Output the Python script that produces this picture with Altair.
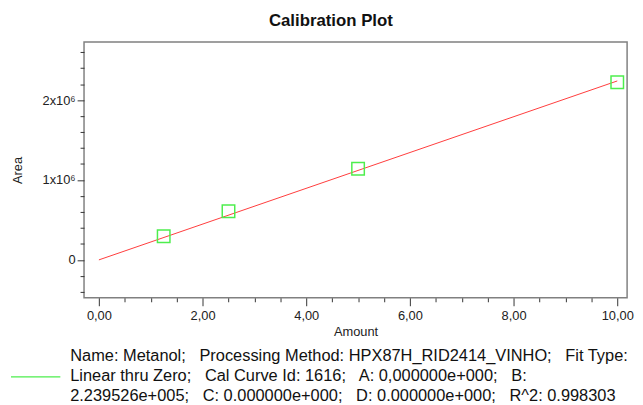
import altair as alt
import pandas as pd

# data
amounts = [1.25, 2.5, 5.0, 10.0]
areas = [297000, 610000, 1142000, 2223000]
fit_amount = [0.0, 10.0]
fit_area = [0.0, 2239526.0]
legend_lines = [
    "Name: Metanol;   Processing Method: HPX87H_RID2414_VINHO;   Fit Type:",
    "Linear thru Zero;   Cal Curve Id: 1616;   A: 0,000000e+000;   B:",
    "2.239526e+005;   C: 0.000000e+000;   D: 0.000000e+000;   R^2: 0.998303",
]
x_ticks = [i * 0.5 for i in range(0, 21)]
y_ticks = [i * 200000 for i in range(-2, 14)]
title_text = "Calibration Plot"

# keep runs of spaces visible in SVG
label = "|".join(l.replace("  ", "\u00a0\u00a0") for l in legend_lines)
pts = pd.DataFrame({"Amount": amounts, "Area": areas, "series": [label] * len(amounts)})
fit = pd.DataFrame({"Amount": fit_amount, "Area": fit_area})

FONT = "Liberation Sans"
xscale = alt.Scale(domain=[-0.287, 10.19], nice=False, zero=False)
yscale = alt.Scale(domain=[-475000, 2726000], nice=False, zero=False)

xaxis = alt.Axis(
    values=x_ticks, tickCount=200,
    labelExpr="datum.value % 2 == 0 ? replace(format(datum.value, '.2f'), '.', ',') : ''",
    tickSize={"condition": {"test": "datum.value % 2 == 0", "value": 8}, "value": 4},
    grid=False, domain=False, tickColor="#333333", labelColor="#222222",
    labelFont=FONT, labelFontSize=13, labelPadding=4, labelOverlap=False,
    title="Amount", titleFont=FONT, titleFontSize=13, titleFontWeight="normal",
    titleColor="#222222", titlePadding=3,
)
yaxis = alt.Axis(
    values=y_ticks, tickCount=200,
    labelExpr="datum.value == 0 ? '0' : (datum.value % 1000000 == 0 ? (datum.value / 1000000) + 'x10\u2076' : '')",
    tickSize={"condition": {"test": "datum.value % 1000000 == 0", "value": 7}, "value": 4},
    grid=False, domain=False, tickColor="#333333", labelColor="#222222",
    labelFont=FONT, labelFontSize=13, labelPadding=2, labelOverlap=False,
    title="Area", titleFont=FONT, titleFontSize=13, titleFontWeight="normal",
    titleColor="#222222", titlePadding=18,
)

line = alt.Chart(fit).mark_line(color="#ff3b3b", strokeWidth=1).encode(
    x=alt.X("Amount:Q", scale=xscale, axis=xaxis),
    y=alt.Y("Area:Q", scale=yscale, axis=yaxis),
)

points = alt.Chart(pts).mark_point(shape="square", filled=False, size=160, strokeWidth=1.5, opacity=1).encode(
    x=alt.X("Amount:Q", scale=xscale),
    y=alt.Y("Area:Q", scale=yscale),
    color=alt.Color(
        "series:N",
        scale=alt.Scale(domain=[label], range=["#4dee4d"]),
        legend=alt.Legend(
            title=None, orient="none", legendX=-75, legendY=292,
            symbolType="M-1,0.84H1", symbolSize=2500, symbolStrokeWidth=1.2,
            labelExpr="split(datum.label, '|')", labelLimit=0,
            labelFont=FONT, labelFontSize=16.6, labelColor="#111111",
            labelOffset=9, padding=0,
        ),
    ),
)

chart = alt.layer(line, points).properties(
    width=550, height=259,
    title=alt.TitleParams(title_text, font=FONT, fontSize=17, fontWeight="bold",
                          anchor="middle", dx=-25, offset=12, color="#111111"),
    autosize=alt.AutoSizeParams(type="none"),
    padding={"left": 77, "top": 32, "right": 8, "bottom": 106},
).configure(
    style={"guide-label": {"lineHeight": 20.5}}
).configure_view(stroke="#808080", strokeWidth=1.5)

chart.save("out.html", embed_options={"renderer": "svg", "actions": False})
